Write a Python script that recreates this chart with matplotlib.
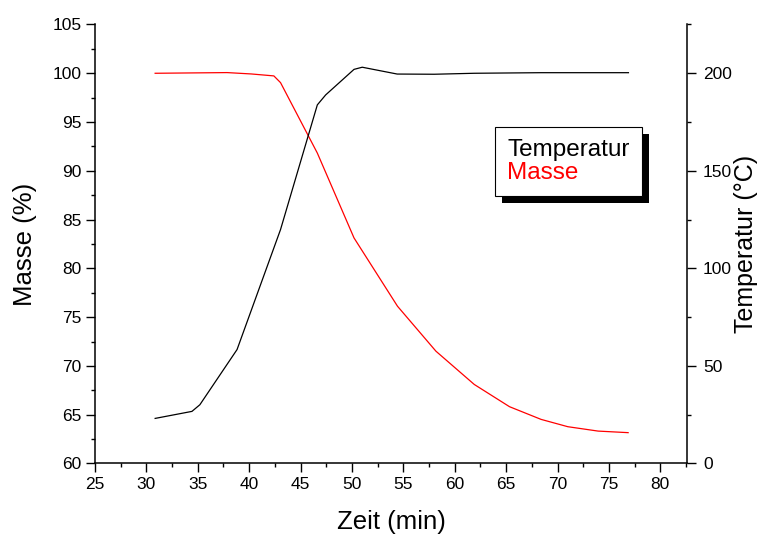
import numpy as np
import matplotlib
matplotlib.use("Agg")
import matplotlib.pyplot as plt
from matplotlib.patches import Rectangle
from matplotlib.ticker import MultipleLocator

plt.rcParams['font.family'] = ['Liberation Sans', 'DejaVu Sans']
plt.rcParams['font.size'] = 12
plt.rcParams['axes.unicode_minus'] = False

# Temperatur (rechte Achse)
t_temp = [30.85, 34.43, 35.2, 38.82, 43.05, 46.63, 47.44, 50.2, 51.0,
          54.4, 58.0, 61.9, 68.4, 76.9]
temp = [23.1, 26.7, 30.1, 58.4, 119.9, 183.8, 188.9, 202.0, 203.1,
        199.6, 199.5, 200.0, 200.3, 200.3]

# Masse (linke Achse)
t_mass = [30.85, 37.85, 40.2, 42.4, 43.05, 46.63, 50.2, 54.43, 58.17,
          61.9, 65.33, 68.4, 71.0, 73.95, 76.87]
masse = [100.0, 100.07, 99.93, 99.73, 99.04, 91.82, 83.12, 76.12, 71.51,
         68.1, 65.82, 64.52, 63.77, 63.32, 63.16]

fig = plt.figure(figsize=(7.62, 5.36), dpi=100)
ax = fig.add_axes([0.1247, 0.1353, 0.9016 - 0.1247, 0.9543 - 0.1353])
ax2 = ax.twinx()

l_m, = ax.plot(t_mass, masse, color='#ff0000', lw=0.9, label='Masse')
l_t, = ax2.plot(t_temp, temp, color='black', lw=0.9, label='Temperatur')

ax.set_xlim(25, 82.6)
ax.set_ylim(60, 105)
ax2.set_ylim(0, 225)

ax.xaxis.set_major_locator(MultipleLocator(5))
ax.xaxis.set_minor_locator(MultipleLocator(2.5))
ax.yaxis.set_major_locator(MultipleLocator(5))
ax.yaxis.set_minor_locator(MultipleLocator(2.5))
ax2.yaxis.set_major_locator(MultipleLocator(50))
ax2.yaxis.set_minor_locator(MultipleLocator(25))

for a in (ax, ax2):
    a.spines['top'].set_visible(False)
    for s in a.spines.values():
        s.set_linewidth(1.1)
    a.tick_params(which='major', direction='out', length=6.5, width=1.0, labelsize=12.5, pad=3)
    a.tick_params(which='minor', direction='out', length=3.2, width=1.0)
ax2.tick_params(which='major', pad=5)
ax.spines['right'].set_visible(False)
ax2.spines['left'].set_visible(False)
ax2.spines['bottom'].set_visible(False)

ax.set_xlabel('Zeit (min)', fontsize=18.5, labelpad=13)
ax.set_ylabel('Masse (%)', fontsize=18.5, labelpad=11)
ax2.set_ylabel('Temperatur (°C)', fontsize=18, labelpad=1)

leg = ax2.legend([l_t, l_m], ['Temperatur', 'Masse'], loc='upper left',
                 bbox_to_anchor=(0.6496, 0.7631), bbox_transform=fig.transFigure,
                 handlelength=0, handletextpad=0, fontsize=17.5, labelcolor='linecolor',
                 fancybox=False, framealpha=1, edgecolor='black', borderpad=0.5,
                 labelspacing=0.02, borderaxespad=0)
leg.get_frame().set_linewidth(0.8)
for h in leg.legend_handles:
    h.set_visible(False)

fig.canvas.draw()
bb = leg.get_window_extent()
shadow = Rectangle((bb.x0 + 7, bb.y0 - 7), bb.width, bb.height, transform=None,
                   facecolor='black', edgecolor='none', zorder=leg.get_zorder() - 0.5)
ax2.add_artist(shadow)

fig.savefig('out.png', dpi=100)
